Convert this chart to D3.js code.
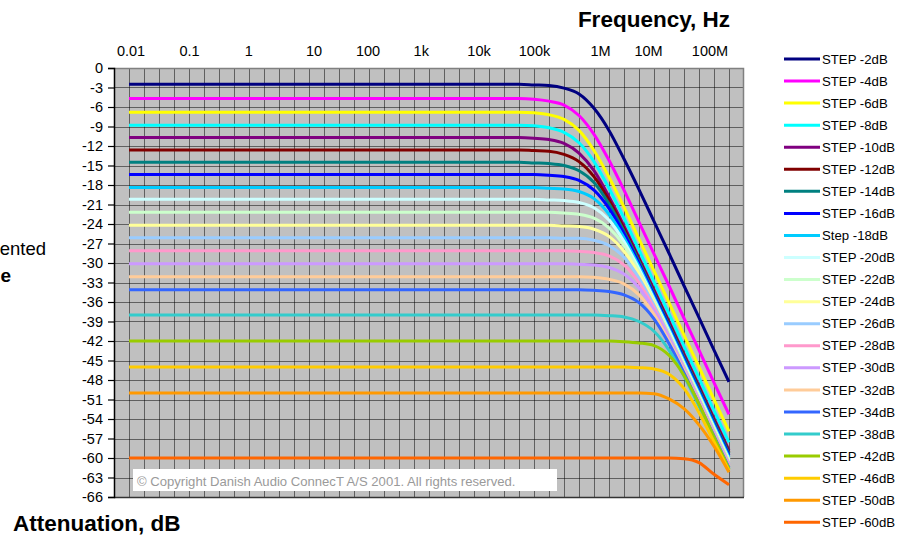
<!DOCTYPE html>
<html lang="en">
<head>
<meta charset="UTF-8" />
<script src="https://d3js.org/d3.v7.min.js"></script>
<title>Step attenuator frequency response</title>
<style>
    body { margin: 0; background: #fff; }
    svg { font-family: Arial, "Liberation Sans", sans-serif; display: block; }
    .tick text { font-size: 14.5px; fill: #000; }
    .legend text { font-size: 13.2px; }
</style>
</head>
<body>
<svg id="chart" width="903" height="535"></svg>
<script>
    // categories: 41 frequency points, 4 per decade, 0.01 Hz .. 100 MHz
    const pointIndex = d3.range(41);
    const tailStart = 26;

    // top axis labels and where they sit (in point-index units)
    const xTickLabels = ["0.01", "0.1", "1", "10", "100", "1k", "10k", "100k", "1M", "10M", "100M"];
    const xTickAt = [0.1, 4.0, 7.95, 12.3, 15.9, 19.45, 23.3, 27.0, 31.4, 34.6, 38.7];

    const yTicks = [0, -3, -6, -9, -12, -15, -18, -21, -24, -27, -30, -33, -36, -39, -42, -45, -48, -51, -54, -57, -60, -63, -66];

    const seriesNames = ["STEP -2dB", "STEP -4dB", "STEP -6dB", "STEP -8dB", "STEP -10dB", "STEP -12dB",
        "STEP -14dB", "STEP -16dB", "Step -18dB", "STEP -20dB", "STEP -22dB", "STEP -24dB", "STEP -26dB",
        "STEP -28dB", "STEP -30dB", "STEP -32dB", "STEP -34dB", "STEP -38dB", "STEP -42dB", "STEP -46dB",
        "STEP -50dB", "STEP -60dB"];

    const seriesColors = ["#000080", "#ff00ff", "#ffff00", "#00ffff", "#800080", "#800000", "#008080",
        "#0000ff", "#00ccff", "#ccffff", "#ccffcc", "#ffff99", "#99ccff", "#ff99cc", "#cc99ff", "#ffcc99",
        "#3366ff", "#33cccc", "#99cc00", "#ffcc00", "#ff9900", "#ff6600"];

    // level of each curve in the flat part (points 0..25)
    const flatLevels = [-2.5, -4.7, -6.8, -8.8, -10.7, -12.6, -14.5, -16.4, -18.4, -20.2, -22.2, -24.2,
        -26.1, -28.1, -30.1, -32.1, -34.1, -38.0, -42.0, -46.0, -50.0, -60.0];

    // roll-off part, points 26..40
    const tails = [
        [-2.5, -2.6, -2.7, -3.1, -4.0, -6.2, -9.6, -14.0, -18.7, -23.6, -28.5, -33.5, -38.4, -43.4, -48.3],
        [-4.7, -4.8, -5.1, -5.7, -7.3, -10.2, -14.2, -18.8, -23.7, -28.6, -33.5, -38.5, -43.4, -48.4, -53.3],
        [-6.8, -6.9, -7.2, -7.9, -9.6, -12.7, -16.8, -21.4, -26.3, -31.2, -36.1, -41.1, -46.0, -51.0, -55.9],
        [-8.8, -8.9, -9.2, -9.9, -11.5, -14.4, -18.5, -23.1, -28.0, -32.9, -37.8, -42.8, -47.7, -52.7, -57.6],
        [-10.7, -10.8, -11.0, -11.6, -13.1, -15.8, -19.8, -24.3, -29.2, -34.1, -39.0, -44.0, -48.9, -53.9, -58.8],
        [-12.6, -12.7, -12.8, -13.3, -14.4, -16.7, -20.3, -24.7, -29.5, -34.4, -39.3, -44.3, -49.2, -54.2, -59.1],
        [-14.5, -14.6, -14.7, -15.0, -15.8, -17.6, -20.9, -25.1, -29.7, -34.6, -39.5, -44.5, -49.4, -54.4, -59.3],
        [-16.4, -16.4, -16.5, -16.7, -17.3, -18.8, -21.6, -25.5, -30.1, -34.9, -39.8, -44.8, -49.7, -54.7, -59.6],
        [-18.4, -18.4, -18.5, -18.6, -19.0, -20.1, -22.5, -26.1, -30.5, -35.3, -40.1, -45.1, -50.0, -55.0, -59.9],
        [-20.2, -20.2, -20.3, -20.4, -20.7, -21.5, -23.4, -26.7, -30.9, -35.6, -40.4, -45.4, -50.3, -55.3, -60.2],
        [-22.2, -22.2, -22.2, -22.3, -22.5, -23.1, -24.6, -27.3, -31.3, -35.8, -40.7, -45.6, -50.5, -55.5, -60.4],
        [-24.2, -24.2, -24.2, -24.3, -24.4, -24.8, -25.9, -28.2, -31.7, -36.1, -40.9, -45.8, -50.7, -55.7, -60.6],
        [-26.1, -26.1, -26.1, -26.2, -26.2, -26.5, -27.3, -29.1, -32.3, -36.5, -41.1, -46.0, -50.9, -55.9, -60.8],
        [-28.1, -28.1, -28.1, -28.1, -28.2, -28.4, -28.9, -30.3, -33.0, -36.9, -41.4, -46.2, -51.1, -56.1, -61.0],
        [-30.1, -30.1, -30.1, -30.1, -30.2, -30.3, -30.7, -31.7, -33.8, -37.3, -41.6, -46.4, -51.2, -56.2, -61.1],
        [-32.1, -32.1, -32.1, -32.1, -32.1, -32.2, -32.5, -33.2, -34.9, -37.9, -42.0, -46.6, -51.5, -56.4, -61.3],
        [-34.1, -34.1, -34.1, -34.1, -34.1, -34.2, -34.4, -34.9, -36.1, -38.6, -42.4, -46.9, -51.7, -56.6, -61.5],
        [-38.0, -38.0, -38.0, -38.0, -38.0, -38.0, -38.1, -38.3, -39.0, -40.5, -43.4, -47.4, -52.0, -56.8, -61.7],
        [-42.0, -42.0, -42.0, -42.0, -42.0, -42.0, -42.0, -42.1, -42.3, -42.7, -44.2, -47.3, -51.7, -56.8, -61.7],
        [-46.0, -46.0, -46.0, -46.0, -46.0, -46.0, -46.0, -46.0, -46.1, -46.3, -47.1, -49.3, -53.0, -57.5, -61.9],
        [-50.0, -50.0, -50.0, -50.0, -50.0, -50.0, -50.0, -50.0, -50.0, -50.1, -50.9, -52.4, -54.9, -58.2, -62.2],
        [-60.0, -60.0, -60.0, -60.0, -60.0, -60.0, -60.0, -60.0, -60.0, -60.0, -60.0, -60.1, -60.7, -62.5, -64.1]
    ];

    const svg = d3.select("#chart");
    const plot = { left: 114, right: 744, top: 68, bottom: 497 };

    // category axis: one slot per point, a full slot left free at each side
    const x = d3.scaleLinear().domain([-1, 41]).range([plot.left, plot.right]);
    const y = d3.scaleLinear().domain([0, -66]).range([plot.top, plot.bottom]);

    // build each series: flat part then roll-off
    const series = seriesNames.map((name, k) => ({
        name: name,
        color: seriesColors[k],
        values: pointIndex.map(i => i < tailStart ? flatLevels[k] : tails[k][i - tailStart])
    }));

    // plot background
    svg.append("rect")
        .attr("x", plot.left).attr("y", plot.top)
        .attr("width", plot.right - plot.left).attr("height", plot.bottom - plot.top)
        .attr("fill", "#c0c0c0");

    // grid
    const grid = svg.append("g").attr("stroke", "#000").attr("stroke-opacity", 0.5).attr("stroke-width", 1);
    grid.selectAll("line.v")
        .data(pointIndex)
        .join("line")
        .attr("class", "v")
        .attr("x1", d => Math.round(x(d)) + 0.5).attr("x2", d => Math.round(x(d)) + 0.5)
        .attr("y1", plot.top).attr("y2", plot.bottom);
    grid.selectAll("line.h")
        .data(yTicks.slice(1, -1))
        .join("line")
        .attr("class", "h")
        .attr("x1", plot.left).attr("x2", plot.right)
        .attr("y1", d => Math.round(y(d)) + 0.5).attr("y2", d => Math.round(y(d)) + 0.5);

    // border top/right
    svg.append("path")
        .attr("d", `M${plot.left},${plot.top + 0.5}H${plot.right - 0.5}V${plot.bottom}`)
        .attr("fill", "none").attr("stroke", "#808080").attr("stroke-width", 1.5);

    // copyright box
    svg.append("rect")
        .attr("x", 133).attr("y", 469).attr("width", 424).attr("height", 22)
        .attr("fill", "#fff");
    svg.append("text")
        .attr("x", 137).attr("y", 485.5)
        .attr("font-size", 13.1).attr("fill", "#9a9a9a")
        .text("\u00a9 Copyright Danish Audio ConnecT A/S 2001. All rights reserved.");

    // curves
    const line = d3.line()
        .x((d, i) => x(i))
        .y(d => y(d))
        .curve(d3.curveMonotoneX);

    svg.append("g")
        .selectAll("path")
        .data(series)
        .join("path")
        .attr("fill", "none")
        .attr("stroke", d => d.color)
        .attr("stroke-width", 3)
        .attr("d", d => line(d.values));

    // bottom axis line
    svg.append("line")
        .attr("x1", plot.left).attr("x2", plot.right)
        .attr("y1", plot.bottom + 0.5).attr("y2", plot.bottom + 0.5)
        .attr("stroke", "#333").attr("stroke-width", 1.5);

    // y axis
    const yAxis = svg.append("g")
        .attr("transform", `translate(${plot.left},0)`)
        .call(d3.axisLeft(y).tickValues(yTicks).tickSize(6).tickPadding(5).tickFormat(d => String(d)));
    yAxis.select(".domain").attr("stroke", "#000").attr("stroke-width", 1.5);
    yAxis.selectAll(".tick line").attr("stroke", "#000").attr("stroke-width", 1.2);

    // top frequency labels
    const xAxis = svg.append("g")
        .attr("transform", "translate(0,59)")
        .call(d3.axisTop(x).tickValues(xTickAt).tickSize(0).tickPadding(3)
            .tickFormat((d, i) => xTickLabels[i]));
    xAxis.select(".domain").remove();

    // titles
    svg.append("text")
        .attr("x", 730).attr("y", 26.5)
        .attr("text-anchor", "end")
        .attr("font-size", 22.5).attr("font-weight", "bold")
        .text("Frequency, Hz");
    svg.append("text")
        .attr("x", 13).attr("y", 531)
        .attr("font-size", 22.5).attr("font-weight", "bold")
        .text("Attenuation, dB");

    // side text, partly outside the picture on the left
    svg.append("text")
        .attr("x", 46).attr("y", 255)
        .attr("text-anchor", "end")
        .attr("font-size", 18.5)
        .text("Represented");
    svg.append("text")
        .attr("x", 11).attr("y", 282)
        .attr("text-anchor", "end")
        .attr("font-size", 19).attr("font-weight", "bold")
        .text("Range");

    // legend
    const legendY = d3.scaleLinear().domain([0, series.length - 1]).range([59, 522.3]);
    const legend = svg.append("g").attr("class", "legend");
    const rows = legend.selectAll("g")
        .data(series)
        .join("g")
        .attr("transform", (d, i) => `translate(784,${legendY(i)})`);
    rows.append("line")
        .attr("x1", 0).attr("x2", 36)
        .attr("stroke", d => d.color)
        .attr("stroke-width", 3);
    rows.append("text")
        .attr("x", 38).attr("y", 4.6)
        .text(d => d.name);
</script>
</body>
</html>
